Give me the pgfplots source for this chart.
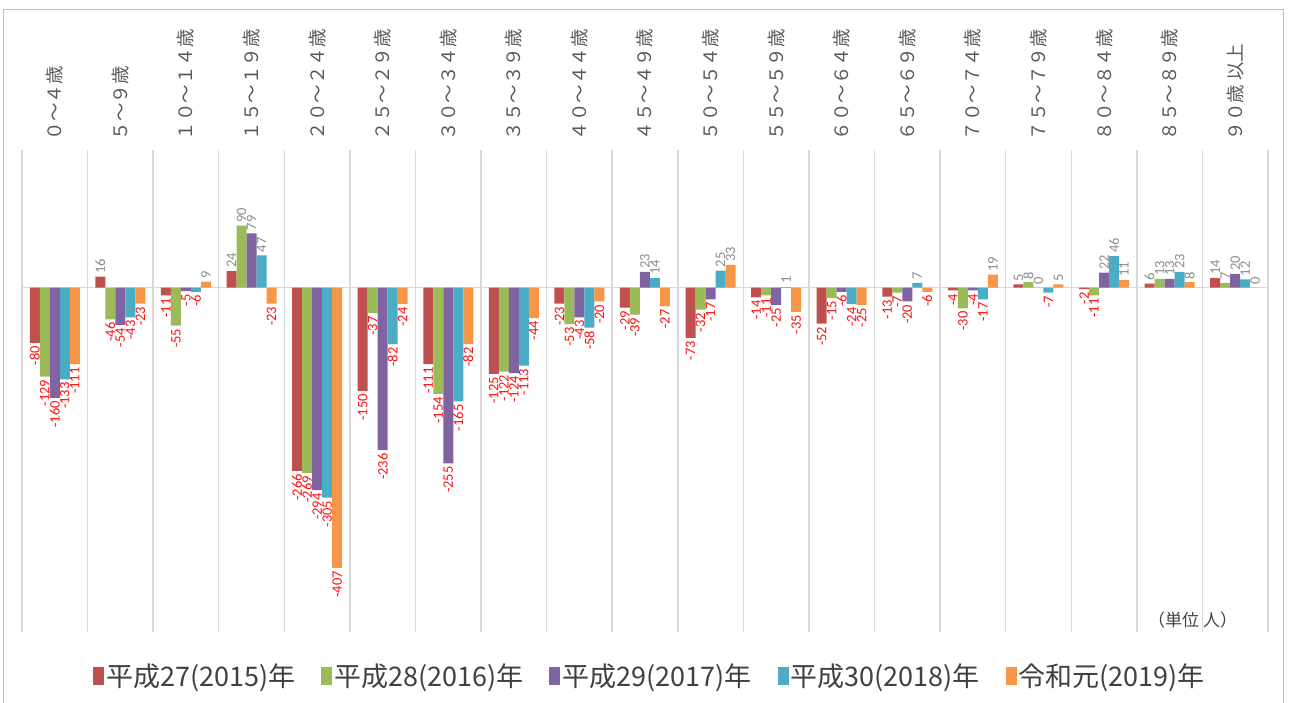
\documentclass[border=0pt]{standalone}
\usepackage{fontspec}
\setmainfont{Noto Sans CJK JP}
\newfontfamily\numfont{Carlito}
\usepackage{pgfplots}
\pgfplotsset{compat=1.18}
\usepackage{pgfplotstable}
\definecolor{c1}{HTML}{C0504D}
\definecolor{c2}{HTML}{9BBB59}
\definecolor{c3}{HTML}{8064A2}
\definecolor{c4}{HTML}{4BACC6}
\definecolor{c5}{HTML}{F79646}
\definecolor{gridc}{HTML}{D9D9D9}
\definecolor{framec}{HTML}{BFBFBF}
\definecolor{negc}{HTML}{FF1010}
\definecolor{posc}{HTML}{8C8C8C}
\definecolor{labc}{HTML}{595959}
\definecolor{legc}{HTML}{404040}

\pgfplotstableread{
x a b c d e
0 -80 -129 -160 -133 -111
1 16 -46 -54 -43 -23
2 -11 -55 -5 -6 9
3 24 90 79 47 -23
4 -266 -269 -294 -305 -407
5 -150 -37 -236 -82 -24
6 -111 -154 -255 -165 -82
7 -125 -122 -124 -113 -44
8 -23 -53 -43 -58 -20
9 -29 -39 23 14 -27
10 -73 -32 -17 25 33
11 -14 -11 -25 1 -35
12 -52 -15 -6 -24 -25
13 -13 -7 -20 7 -6
14 -4 -30 -4 -17 19
15 5 8 0 -7 5
16 -2 -11 22 46 11
17 6 13 13 23 8
18 14 7 20 12 0
}\datatable

\pgfplotsset{
  legimg/.style={legend image code/.code={\fill[##1,draw=none] (0pt,-9pt) rectangle (11pt,9pt);}},
}

\begin{document}
\begin{tikzpicture}[x=1pt,y=1pt]
\path[use as bounding box] (0,0) rectangle (1290,702);
\draw[framec, line width=1pt] (3,-5) -- (3,692) -- (1283,692) -- (1283,-5);
\begin{axis}[
  at={(22pt,70pt)}, anchor=south west,
  scale only axis, width=1246pt, height=482pt,
  xmin=-0.5, xmax=18.5, ymin=-500, ymax=200,
  ybar=0pt, bar width=10pt,
  clip=false,
  axis line style={draw=none},
  major tick style={draw=none}, minor tick style={draw=none},
  xtick={0,...,18},
  xticklabels={０～４歳,５～９歳,１０～１４歳,１５～１９歳,２０～２４歳,２５～２９歳,３０～３４歳,３５～３９歳,４０～４４歳,４５～４９歳,５０～５４歳,５５～５９歳,６０～６４歳,６５～６９歳,７０～７４歳,７５～７９歳,８０～８４歳,８５～８９歳,９０歳 以上},
  xticklabel pos=upper,
  xticklabel style={rotate=90, anchor=west, font=\fontsize{18.5}{18.5}\selectfont, text=labc},
  xticklabel shift=2pt,
  minor xtick={-0.5,0.5,...,18.5},
  xminorgrids,
  minor grid style={gridc, line width=1.5pt},
  ytick={0}, yticklabels={{}}, ymajorgrids,
  major grid style={gridc, line width=1.5pt},
  point meta=y,
  nodes near coords,
  /pgf/number format/assume math mode=true,
  every node near coord/.append style={
    rotate=90, font=\numfont\fontsize{14.5}{14.5}\selectfont, inner sep=3pt,
    signcheck/.code={\pgfmathfloatifflags{\pgfplotspointmeta}{2}{\pgfkeys{/tikz/anchor=east,/tikz/text=negc}}{\pgfkeys{/tikz/anchor=west,/tikz/text=posc}}},
    signcheck
  },
  legend columns=5,
  legend style={at={(0.504,-0.091)}, anchor=center, draw=none, fill=none,
    font=\fontsize{27}{27}\selectfont, text=legc,
    /tikz/every even column/.append style={column sep=24pt}},
]
\addplot[fill=c1, draw=none, legimg] table[x=x, y=a] {\datatable};
\addplot[fill=c2, draw=none, legimg] table[x=x, y=b] {\datatable};
\addplot[fill=c3, draw=none, legimg] table[x=x, y=c] {\datatable};
\addplot[fill=c4, draw=none, legimg] table[x=x, y=d] {\datatable};
\addplot[fill=c5, draw=none, legimg] table[x=x, y=e] {\datatable};
\legend{平成27(2015)年, 平成28(2016)年, 平成29(2017)年, 平成30(2018)年, 令和元(2019)年}
\node[anchor=east, font=\fontsize{17}{17}\selectfont, text=legc] at (rel axis cs:0.978,0.025) {（単位 人）};
\end{axis}
\end{tikzpicture}
\end{document}
